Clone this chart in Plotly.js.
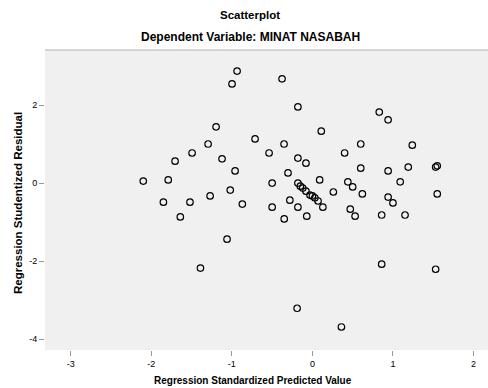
<!DOCTYPE html>
<html>
<head>
<meta charset="utf-8">
<script src="https://cdn.plot.ly/plotly-3.0.1.min.js"></script>
<style>html,body{margin:0;padding:0;background:#fff;}#chart{width:488px;height:388px;}</style>
</head>
<body>
<div id="chart"></div>
<script>
// Regression Standardized Predicted Value
const predicted = [
  -0.935, -0.998, -0.377, -1.196, -1.295, -0.712, -0.352, -1.494, -1.705, -0.538,
  -1.122, -0.960, -0.303, -2.10, -1.79, -0.50, -1.02, -1.85, -1.52, -1.27,
  -0.87, -0.28, -1.64, -0.50, -0.35, -1.06, -1.39, -0.18, 0.83, 0.94,
  0.11, 0.60, 1.24, 0.40, -0.18, -0.08, 0.60, 0.94, 1.19, 1.53,
  1.55, 0.09, 0.44, -0.18, -0.12, -0.03, 0.03, 0.26, 0.50, 0.62,
  1.09, 1.55, -0.18, 0.13, 0.47, 0.94, 1.00, -0.07, 0.86, 1.15,
  0.53, 0.86, 1.53, -0.19, 0.36, -0.15, -0.08, 0.00, 0.07
];
// Regression Studentized Residual
const residual = [
  2.87, 2.54, 2.67, 1.44, 1.00, 1.13, 1.00, 0.77, 0.56, 0.77,
  0.62, 0.31, 0.26, 0.05, 0.08, 0.00, -0.18, -0.49, -0.49, -0.33,
  -0.54, -0.44, -0.87, -0.62, -0.92, -1.44, -2.18, 1.95, 1.82, 1.62,
  1.33, 1.00, 0.97, 0.77, 0.64, 0.51, 0.38, 0.31, 0.41, 0.41,
  0.44, 0.08, 0.03, 0.00, -0.13, -0.31, -0.38, -0.23, -0.10, -0.28,
  0.03, -0.28, -0.62, -0.62, -0.67, -0.36, -0.51, -0.85, -0.82, -0.82,
  -0.85, -2.08, -2.21, -3.21, -3.69, -0.08, -0.21, -0.33, -0.46
];
const xTicks = [-3, -2, -1, 0, 1, 2];
const yTicks = [-4, -2, 0, 2];
const chartTitle = "Scatterplot";
const chartSubtitle = "Dependent Variable: MINAT NASABAH";
const xTitle = "Regression Standardized Predicted Value";
const yTitle = "Regression Studentized Residual";

const font = "Liberation Sans, Arial, sans-serif";

Plotly.newPlot("chart", [{
  type: "scatter",
  mode: "markers",
  x: predicted,
  y: residual,
  marker: {symbol: "circle-open", size: 6.5, color: "#000", line: {width: 1.2, color: "#000"}},
  hoverinfo: "skip"
}], {
  width: 488, height: 388,
  margin: {l: 45, r: 0, t: 50, b: 38},
  paper_bgcolor: "#ffffff",
  plot_bgcolor: "#f0f0f0",
  showlegend: false,
  font: {family: font, color: "#000"},
  xaxis: {
    range: [-3.32, 2.18],
    tickvals: xTicks, ticktext: xTicks.map(String),
    ticks: "outside", ticklen: 5, tickcolor: "#999",
    tickfont: {size: 9, color: "#000"},
    showgrid: false, zeroline: false, showline: false
  },
  yaxis: {
    range: [-4.28, 3.41],
    tickvals: yTicks, ticktext: yTicks.map(String),
    ticks: "outside", ticklen: 5, tickcolor: "#999",
    tickfont: {size: 9, color: "#000"},
    showgrid: false, zeroline: false, showline: false
  },
  shapes: [
    {type: "line", xref: "paper", yref: "paper", x0: 0, x1: 1, y0: 1, y1: 1, line: {color: "#c8c8c8", width: 1.5}}
  ],
  annotations: [
    {text: "<b>" + chartTitle + "</b>", xref: "paper", yref: "paper", x: 0.463, y: 1, yshift: 35, xanchor: "center", yanchor: "middle", showarrow: false, font: {size: 11.5}},
    {text: "<b>" + chartSubtitle + "</b>", xref: "paper", yref: "paper", x: 0.463, y: 1, yshift: 13, xanchor: "center", yanchor: "middle", showarrow: false, font: {size: 12}},
    {text: "<b>" + xTitle + "</b>", xref: "paper", yref: "paper", x: 0.469, y: 0, yshift: -30, xanchor: "center", yanchor: "middle", showarrow: false, font: {size: 10}},
    {text: "<b>" + yTitle + "</b>", xref: "paper", yref: "paper", x: 0, xshift: -27, y: 0.49, xanchor: "center", yanchor: "middle", textangle: -90, showarrow: false, font: {size: 11.5}}
  ]
}, {displayModeBar: false, staticPlot: true});
</script>
</body>
</html>
